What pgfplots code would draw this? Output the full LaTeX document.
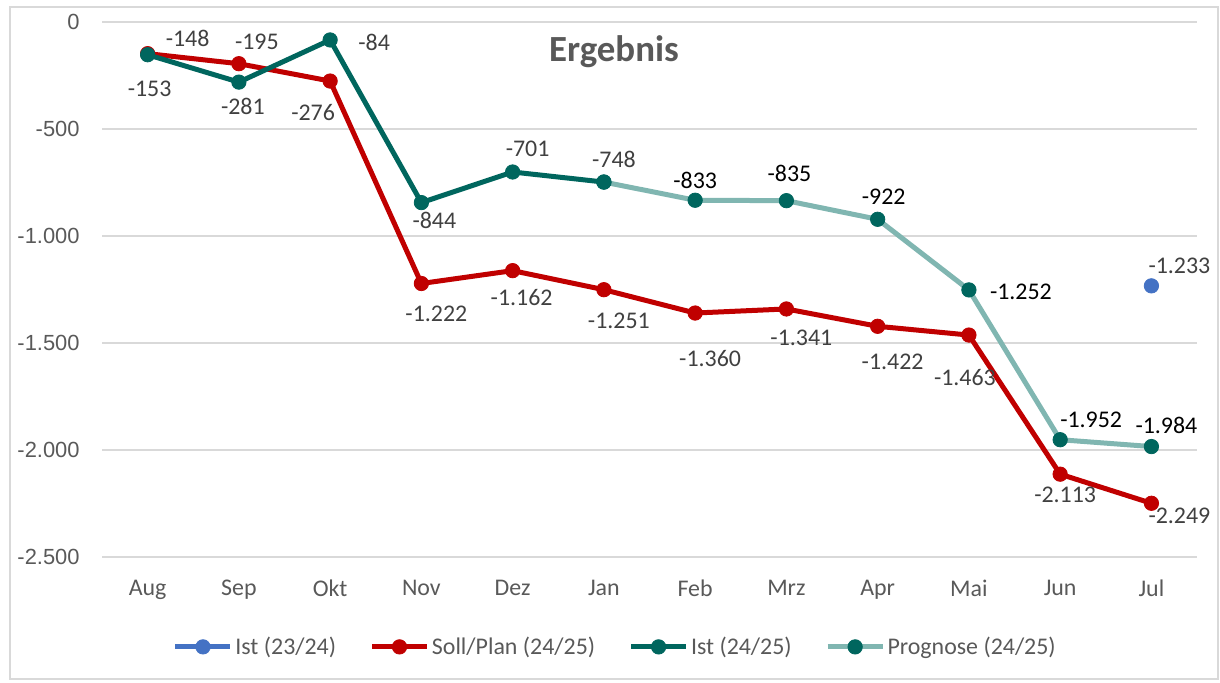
\documentclass[border=0pt]{standalone}
\usepackage{fontspec}
\setmainfont{Carlito}
\newfontfamily\arialf{Liberation Sans}
\usepackage{pgfplots}
\usepackage{pgfplotstable}
\pgfplotsset{compat=1.18}
\definecolor{cred}{HTML}{C00000}
\definecolor{cteal}{HTML}{00665E}
\definecolor{clteal}{HTML}{80B6B1}
\definecolor{cblue}{HTML}{4472C4}
\definecolor{ctxt}{HTML}{595959}
\definecolor{clab}{HTML}{404040}
\definecolor{cgrid}{HTML}{D9D9D9}

\pgfplotstableread{
x y
11 -1233
}\istalt
\pgfplotstableread{
x y
0 -148
1 -195
2 -276
3 -1222
4 -1162
5 -1251
6 -1360
7 -1341
8 -1422
9 -1463
10 -2113
11 -2249
}\plan
\pgfplotstableread{
x y
0 -153
1 -281
2 -84
3 -844
4 -701
5 -748
}\ist
\pgfplotstableread{
x y
5 -748
6 -833
7 -835
8 -922
9 -1252
10 -1952
11 -1984
}\prog
% data labels: offsets in px
\pgfplotstableread{
x y dx dy label
0 -148 40 15 -148
1 -195 18 22 -195
2 -276 -17 -31 -276
3 -1222 15 -30 -1.222
4 -1162 9 -27 -1.162
5 -1251 15 -31 -1.251
6 -1360 15 -45 -1.360
7 -1341 15 -29 -1.341
8 -1422 15 -36 -1.422
9 -1463 -4 -42 -1.463
10 -2113 5 -21 -2.113
11 -2249 28 -13 -2.249
0 -153 2 -34 -153
1 -281 4 -24 -281
2 -84 44 -2 -84
3 -844 13 -18 -844
4 -701 15 23 -701
5 -748 10 23 -748
11 -1233 28 20 -1.233
}\labgray
\pgfplotstableread{
x y dx dy label
6 -833 0 20 -833
7 -835 3 27 -835
8 -922 6 23 -922
9 -1252 52 -2 -1.252
10 -1952 31 20 -1.952
11 -1984 15 21 -1.984
}\labblack

\begin{document}
\begin{tikzpicture}[x=0.5bp,y=0.5bp]
\useasboundingbox (0,0) rectangle (1220,682);
\draw[cgrid, line width=1bp] (10,3) rectangle (1218,675);
\begin{axis}[
  at={(51bp,62.5bp)}, anchor=south west,
  scale only axis, width=547.5bp, height=267.5bp,
  xmin=-0.5, xmax=11.5, ymin=-2500, ymax=0,
  xtick={0,...,11},
  xticklabels={Aug,Sep,Okt,Nov,Dez,Jan,Feb,Mrz,Apr,Mai,Jun,Jul},
  ytick={-2500,-2000,-1500,-1000,-500,0},
  yticklabels={{-2.500},{-2.000},{-1.500},{-1.000},{-500},{0}},
  ymajorgrids, major grid style={cgrid, line width=0.75bp},
  axis line style={draw=none},
  major tick length=0pt,
  tick pos=left,
  yticklabel style={font=\arialf\fontsize{11}{13}\selectfont, text=ctxt, anchor=east, inner sep=0pt, xshift=-11bp},
  xticklabel style={font=\fontsize{12}{14}\selectfont, text=ctxt, anchor=north, inner sep=0pt, yshift=-11.5bp},
  clip=false,
  legend columns=4,
  legend style={at={(axis description cs:0.469,-0.168)}, anchor=center, draw=none, fill=none,
    font=\fontsize{12}{14}\selectfont, text=ctxt,
    /tikz/every even column/.append style={column sep=15.5bp},
    /tikz/every odd column/.append style={column sep=0bp},
    nodes={inner sep=1.2bp}},
  legend image code/.code={\draw[mark repeat=2,mark phase=2,#1] plot coordinates {(0bp,0bp) (13.75bp,0bp) (27.5bp,0bp)};},
  label nodes/.style={nodes near coords, point meta=explicit symbolic,
    visualization depends on={\thisrow{dx} \as \dx},
    visualization depends on={\thisrow{dy} \as \dy},
    every node near coord/.append style={anchor=center, inner sep=0pt, xshift={\dx*0.5bp}, yshift={\dy*0.5bp}, font=\fontsize{12}{14}\selectfont}},
]
\addplot[cblue, line width=2.5bp, mark=*, mark size=3.6bp, mark options={line width=0.4bp, fill=cblue}] table[x=x,y=y]{\istalt};
\addlegendentry{Ist (23/24)}
\addplot[cred, line width=2.5bp, mark=*, mark size=3.6bp, mark options={line width=0.4bp, fill=cred}] table[x=x,y=y]{\plan};
\addlegendentry{Soll/Plan (24/25)}
\addplot[cteal, line width=2.5bp, mark=*, mark size=3.6bp, mark options={line width=0.4bp, fill=cteal}] table[x=x,y=y]{\ist};
\addlegendentry{Ist (24/25)}
\addplot[clteal, line width=2.5bp, mark=*, mark size=3.6bp, mark options={line width=0.4bp, draw=cteal, fill=cteal}] table[x=x,y=y]{\prog};
\addlegendentry{Prognose (24/25)}
\addplot[forget plot, draw=none, mark=none, label nodes, every node near coord/.append style={text=clab}] table[x=x,y=y,meta=label]{\labgray};
\addplot[forget plot, draw=none, mark=none, label nodes, every node near coord/.append style={text=black}] table[x=x,y=y,meta=label]{\labblack};
\end{axis}
\node[font=\bfseries\fontsize{18.5}{22}\selectfont, text=ctxt] at (614,630) {Ergebnis};
\end{tikzpicture}
\end{document}
